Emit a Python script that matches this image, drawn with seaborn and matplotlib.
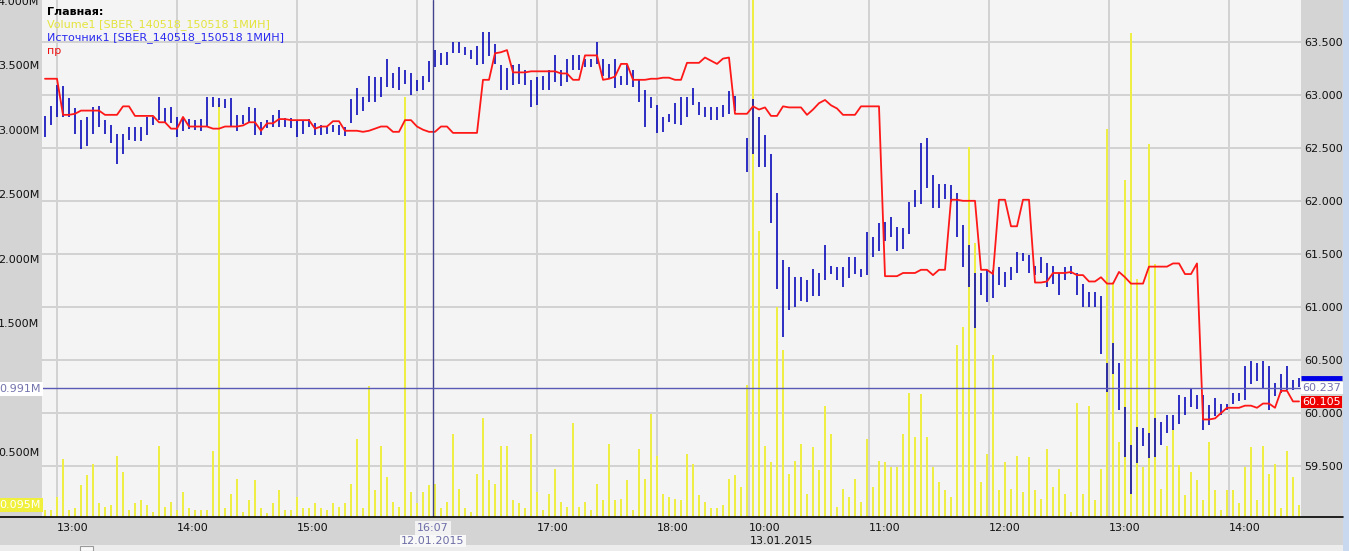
import numpy as np
import matplotlib
matplotlib.use("Agg")
import matplotlib.pyplot as plt
import matplotlib.transforms as mtrans
from matplotlib.patches import Rectangle
from matplotlib.lines import Line2D
import seaborn as sns

# ---------------- data (one bar = 3 one-minute candles) ----------------
BAR_MINUTES = 3
nan = float("nan")

price_high = [
    62.80, 62.89, 63.09, 63.08, 62.97, 62.87, 62.76, 62.79, 62.88, 62.89,
    62.76, 62.71, 62.63, 62.63, 62.70, 62.70, 62.70, 62.79, 62.79, 62.98,
    62.87, 62.88, 62.79, 62.77, 62.77, 62.76, 62.77, 62.98, 62.98, 62.97,
    62.96, 62.97, 62.81, 62.81, 62.88, 62.87, 62.74, 62.76, 62.81, 62.86,
    62.78, 62.78, 62.76, 62.76, 62.77, 62.73, 62.71, 62.70, 62.71, 62.71,
    62.70, 62.96, 63.06, 62.98, 63.18, 63.17, 63.17, 63.34, 63.20, 63.26,
    63.23, 63.20, 63.14, 63.18, 63.32, 63.42, 63.39, 63.40, 63.50, 63.50,
    63.45, 63.42, 63.46, 63.59, 63.59, 63.48, 63.28, 63.25, 63.28, 63.29,
    63.23, 63.14, 63.17, 63.18, 63.23, 63.37, 63.23, 63.34, 63.37, 63.37,
    63.34, 63.34, 63.50, 63.34, 63.29, 63.34, 63.18, 63.28, 63.23, 63.14,
    63.04, 62.98, 62.90, 62.79, 62.82, 62.92, 62.98, 62.98, 63.06, 62.93,
    62.88, 62.88, 62.88, 62.90, 63.03, 62.99, nan, 62.59, 62.96, 62.79,
    62.62, 62.44, 62.07, 61.44, 61.38, 61.28, 61.28, 61.25, 61.36, 61.32,
    61.58, 61.39, 61.38, 61.38, 61.47, 61.47, 61.36, 61.71, 61.66, 61.79,
    61.80, 61.85, 61.75, 61.74, 61.99, 62.10, 62.54, 62.59, 62.24, 62.16,
    62.16, 62.15, 62.07, 61.77, 61.58, 61.32, 61.32, 61.35, 61.35, 61.38,
    61.33, 61.38, 61.52, 61.51, 61.49, 61.39, 61.47, 61.41, 61.39, 61.32,
    61.38, 61.39, 61.32, 61.22, 61.14, 61.14, 61.10, 60.47, 60.66, 60.47,
    60.06, 59.70, 59.87, 59.86, 59.81, 59.95, 59.92, 59.98, 59.98, 60.17,
    60.15, 60.23, 60.17, 60.17, 60.08, 60.14, 60.09, 60.09, 60.19, 60.19,
    60.44, 60.49, 60.47, 60.49, 60.44, 60.28, 60.37, 60.44, 60.31, 60.33,
]
price_low = [
    62.60, 62.71, 62.79, 62.79, 62.79, 62.63, 62.49, 62.52, 62.63, 62.70,
    62.63, 62.54, 62.35, 62.44, 62.57, 62.56, 62.56, 62.62, 62.71, 62.76,
    62.74, 62.73, 62.60, 62.66, 62.68, 62.67, 62.66, 62.70, 62.88, 62.88,
    62.87, 62.70, 62.66, 62.72, 62.74, 62.62, 62.62, 62.69, 62.70, 62.70,
    62.70, 62.69, 62.60, 62.63, 62.70, 62.62, 62.62, 62.63, 62.65, 62.62,
    62.61, 62.73, 62.81, 62.85, 62.93, 62.93, 62.98, 63.07, 63.06, 63.04,
    63.10, 63.00, 63.03, 63.04, 63.12, 63.26, 63.28, 63.28, 63.39, 63.39,
    63.37, 63.34, 63.28, 63.29, 63.36, 63.29, 63.04, 63.04, 63.09, 63.10,
    63.09, 62.88, 62.90, 63.04, 63.04, 63.12, 63.08, 63.12, 63.23, 63.23,
    63.26, 63.26, 63.29, 63.18, 63.15, 63.06, 63.09, 63.09, 63.07, 62.93,
    62.70, 62.87, 62.64, 62.65, 62.74, 62.72, 62.71, 62.79, 62.90, 62.81,
    62.79, 62.76, 62.76, 62.79, 62.82, 62.85, nan, 62.27, 62.44, 62.32,
    62.32, 61.79, 61.17, 60.72, 60.97, 61.00, 61.06, 61.05, 61.10, 61.10,
    61.25, 61.31, 61.25, 61.19, 61.27, 61.31, 61.28, 61.30, 61.47, 61.53,
    61.62, 61.66, 61.53, 61.55, 61.69, 61.94, 61.97, 62.12, 61.93, 61.93,
    62.02, 61.99, 61.66, 61.38, 61.19, 60.80, 61.11, 61.05, 61.08, 61.21,
    61.19, 61.25, 61.32, 61.43, 61.32, 61.30, 61.32, 61.19, 61.22, 61.11,
    61.25, 61.31, 61.11, 61.00, 61.00, 61.00, 60.56, 60.20, 60.37, 60.03,
    59.59, 59.24, 59.53, 59.69, 59.58, 59.59, 59.70, 59.81, 59.84, 59.90,
    59.98, 60.06, 60.04, 59.84, 59.89, 59.97, 59.98, 60.03, 60.09, 60.11,
    60.12, 60.27, 60.30, 60.23, 60.03, 60.16, 60.19, 60.22, 60.22, 60.25,
]
pr_line = [
    63.15, 63.15, 63.15, 62.81, 62.81, 62.82, 62.85, 62.85, 62.85, 62.85,
    62.81, 62.81, 62.81, 62.89, 62.89, 62.80, 62.80, 62.80, 62.80, 62.74,
    62.74, 62.68, 62.68, 62.79, 62.70, 62.70, 62.70, 62.70, 62.68, 62.68,
    62.70, 62.70, 62.70, 62.71, 62.74, 62.74, 62.66, 62.73, 62.73, 62.77,
    62.77, 62.76, 62.76, 62.76, 62.76, 62.68, 62.70, 62.70, 62.75, 62.75,
    62.66, 62.66, 62.66, 62.65, 62.66, 62.68, 62.70, 62.70, 62.65, 62.65,
    62.76, 62.76, 62.70, 62.67, 62.65, 62.65, 62.70, 62.70, 62.64, 62.64,
    62.64, 62.64, 62.64, 63.14, 63.14, 63.39, 63.40, 63.42, 63.21, 63.21,
    63.21, 63.22, 63.22, 63.22, 63.22, 63.22, 63.20, 63.20, 63.14, 63.14,
    63.37, 63.37, 63.37, 63.14, 63.15, 63.17, 63.29, 63.29, 63.14, 63.14,
    63.14, 63.15, 63.15, 63.16, 63.16, 63.14, 63.14, 63.30, 63.30, 63.30,
    63.35, 63.32, 63.29, 63.34, 63.35, 62.82, 62.82, 62.82, 62.89, 62.86,
    62.88, 62.80, 62.80, 62.89, 62.88, 62.88, 62.88, 62.81, 62.86, 62.92,
    62.95, 62.90, 62.87, 62.81, 62.81, 62.81, 62.89, 62.89, 62.89, 62.89,
    61.29, 61.29, 61.29, 61.32, 61.32, 61.32, 61.35, 61.35, 61.30, 61.35,
    61.35, 62.01, 62.01, 62.00, 62.00, 62.00, 61.35, 61.35, 61.31, 62.01,
    62.01, 61.76, 61.76, 62.01, 62.01, 61.23, 61.23, 61.24, 61.32, 61.32,
    61.32, 61.33, 61.30, 61.30, 61.24, 61.24, 61.28, 61.22, 61.22, 61.33,
    61.28, 61.22, 61.22, 61.22, 61.38, 61.38, 61.38, 61.38, 61.41, 61.41,
    61.31, 61.31, 61.41, 59.94, 59.94, 59.95, 60.00, 60.05, 60.05, 60.05,
    60.07, 60.07, 60.05, 60.09, 60.09, 60.05, 60.21, 60.21, 60.11, 60.11,
]
volume_m = [
    0.054, 0.054, 0.156, 0.450, 0.054, 0.066, 0.246, 0.322, 0.412, 0.105,
    0.079, 0.092, 0.476, 0.348, 0.054, 0.105, 0.130, 0.092, 0.041, 0.552,
    0.079, 0.118, 0.054, 0.194, 0.066, 0.054, 0.054, 0.054, 0.514, 3.199,
    0.066, 0.182, 0.297, 0.041, 0.130, 0.284, 0.066, 0.028, 0.105, 0.207,
    0.054, 0.054, 0.156, 0.066, 0.066, 0.105, 0.066, 0.054, 0.105, 0.079,
    0.105, 0.258, 0.604, 0.066, 1.013, 0.207, 0.552, 0.309, 0.118, 0.079,
    3.251, 0.194, 0.105, 0.194, 0.246, 0.258, 0.066, 0.118, 0.642, 0.220,
    0.066, 0.041, 0.335, 0.770, 0.284, 0.258, 0.552, 0.552, 0.130, 0.105,
    0.066, 0.642, 0.194, 0.054, 0.182, 0.373, 0.118, 0.079, 0.731, 0.079,
    0.118, 0.054, 0.258, 0.130, 0.565, 0.130, 0.143, 0.284, 0.054, 0.527,
    0.297, 0.795, 0.476, 0.182, 0.156, 0.143, 0.130, 0.488, 0.412, 0.169,
    0.118, 0.066, 0.066, 0.092, 0.297, 0.322, 0.233, 1.026, 4.200, 2.215,
    0.552, 0.425, 1.627, 1.294, 0.335, 0.437, 0.565, 0.182, 0.540, 0.361,
    0.859, 0.642, 0.079, 0.220, 0.156, 0.297, 0.118, 0.604, 0.233, 0.437,
    0.425, 0.386, 0.386, 0.642, 0.962, 0.616, 0.949, 0.616, 0.386, 0.271,
    0.207, 0.156, 1.332, 1.473, 2.867, 2.125, 0.271, 0.488, 1.256, 0.207,
    0.425, 0.220, 0.476, 0.194, 0.463, 0.207, 0.143, 0.527, 0.233, 0.373,
    0.182, 0.041, 0.885, 0.182, 0.859, 0.130, 0.373, 3.008, 1.818, 0.578,
    2.611, 3.749, 1.844, 0.386, 2.893, 1.959, 0.220, 0.552, 0.680, 0.399,
    0.169, 0.348, 0.284, 0.130, 0.578, 0.207, 0.054, 0.207, 0.207, 0.105,
    0.386, 0.540, 0.130, 0.552, 0.335, 0.412, 0.066, 0.514, 0.309, 0.092,
]

time_ticks = [7, 67, 127, 187, 247, 307, 353, 413, 473, 533, 593]
time_labels = ["13:00", "14:00", "15:00", "", "17:00", "18:00",
               "10:00", "11:00", "12:00", "13:00", "14:00"]
price_ticks = [59.5, 60.0, 60.5, 61.0, 61.5, 62.0, 62.5, 63.0, 63.5]
volume_ticks = [0.5, 1.5, 2.0, 2.5, 3.0, 3.5, 4.0]
day2_start = 353
day2_date = "13.01.2015"
cursor_minute = 195
cursor_time = "16:07"
cursor_date = "12.01.2015"
cursor_volume = 0.991
cursor_price = 60.237
last_pr = 60.105
last_close = 60.33
min_volume = 0.095
legend_items = [
    ("Главная:", "#000000", "bold"),
    ("Volume1 [SBER_140518_150518 1МИН]", "#e4e43c", "normal"),
    ("Источник1 [SBER_140518_150518 1МИН]", "#2a2af0", "normal"),
    ("пр", "#ee1010", "normal"),
]

# ---------------- figure ----------------
W, H = 1349, 551
sns.set_style("white")
plt.rcParams["font.family"] = ["DejaVu Sans"]

fig = plt.figure(figsize=(W / 100, H / 100), dpi=100)
fig.patch.set_facecolor("#d4d4d4")

L, R, T, B = 42, 1301, 0, 517
ax_bg = fig.add_axes([L / W, 1 - B / H, (R - L) / W, (B - T) / H])
ax_bg.set_facecolor("#f4f4f4")
ax_vol = ax_bg.twinx()
ax_px = ax_bg.twinx()

n = len(price_high)
xs = np.arange(n) * BAR_MINUTES + 1
hi = np.array(price_high)
lo = np.array(price_low)
ok = ~np.isnan(hi)

# volume bars (thin yellow sticks)
sns.barplot(x=xs, y=volume_m, native_scale=True, ax=ax_vol, color="#eeee44",
            saturation=1, width=0.32, errorbar=None, edgecolor="none", linewidth=0)

# price bars + red line
ax_px.vlines(xs[ok], lo[ok], hi[ok], colors="#0000b8", linewidth=1.15, zorder=3)
sns.lineplot(x=xs, y=pr_line, ax=ax_px, color="#ff1818", linewidth=1.3,
             estimator=None, sort=False, legend=False, zorder=4)

# cursors
ax_px.axvline(cursor_minute, color="#44448e", linewidth=1.0, zorder=5)
ax_px.axhline(cursor_price, color="#5a5ab6", linewidth=1.0, zorder=5)

# limits
price_lim = (59.021, 63.892)
for a in (ax_bg, ax_px):
    a.set_ylim(*price_lim)
ax_vol.set_ylim(0, 4.005)
ax_bg.set_xlim(-0.5, 629)

# ticks / grid
ax_bg.set_xticks(time_ticks, time_labels)
for t in ax_bg.get_xticklabels():
    t.set_ha("left")
ax_bg.tick_params(axis="x", length=0, pad=4.5, labelsize=8, labelcolor="#111111")
ax_bg.set_yticks(price_ticks, [f"{p:.3f}" for p in price_ticks])
ax_bg.yaxis.tick_right()
ax_bg.tick_params(axis="y", length=0, pad=2, labelsize=8, labelcolor="#111111")
ax_bg.grid(True, color="#d2d2d2", linewidth=1.4)
ax_bg.set_axisbelow(True)

ax_vol.yaxis.tick_left()
ax_vol.set_yticks(volume_ticks, [f"{v:.3f}M" for v in volume_ticks])
ax_vol.tick_params(axis="y", length=0, pad=2, labelsize=8, labelcolor="#111111")
ax_vol.grid(False)
ax_px.set_yticks([])
ax_px.grid(False)
for a in (ax_vol, ax_px):
    a.tick_params(axis="x", bottom=False, labelbottom=False, top=False, labeltop=False)
    a.set_xlabel("")
    a.set_ylabel("")
ax_bg.set_xlabel("")
for a in (ax_bg, ax_vol, ax_px):
    for s in a.spines.values():
        s.set_visible(False)

# ---------------- decorations ----------------
def fy(y):
    return 1 - y / H

# x-axis base line and bottom scroll strip
fig.add_artist(Rectangle((0, 0), 1343 / W, (H - 545) / H, transform=fig.transFigure,
                         facecolor="#ececec", edgecolor="none"))
fig.add_artist(Rectangle((80 / W, 0), 13 / W, 5 / H, transform=fig.transFigure,
                         facecolor="#fafafa", edgecolor="#9a9a9a", linewidth=0.8))
fig.add_artist(Line2D([0, 1343 / W], [fy(517), fy(517)], transform=fig.transFigure,
                      color="black", linewidth=1.2))
fig.add_artist(Rectangle((1343 / W, 0), 6 / W, 1, transform=fig.transFigure,
                         facecolor="#c8d8ee", edgecolor="none"))

# legend
for i, (txt, col, wt) in enumerate(legend_items):
    fig.text(47 / W, fy(12 + 13 * i), txt, color=col, fontsize=8, fontweight=wt,
             va="center", ha="left")

# left special labels
tl = mtrans.blended_transform_factory(fig.transFigure, ax_vol.transData)
fig.text(40.5 / W, cursor_volume, f"{cursor_volume:.3f}M", transform=tl, ha="right",
         va="center", fontsize=8, color="#7474ae",
         bbox=dict(boxstyle="square,pad=0.18", fc="white", ec="none"))
fig.text(40.5 / W, min_volume, f"{min_volume:.3f}M", transform=tl, ha="right",
         va="center", fontsize=8, color="white",
         bbox=dict(boxstyle="square,pad=0.18", fc="#f0f03c", ec="none"))

# right special labels
tr = mtrans.blended_transform_factory(fig.transFigure, ax_px.transData)
fig.add_artist(Line2D([1301 / W, 1342 / W], [last_close, last_close], transform=tr,
                      color="#0000e6", linewidth=3.5, solid_capstyle="butt"))
fig.text(1302.5 / W, cursor_price, f"{cursor_price:.3f}", transform=tr, ha="left",
         va="center", fontsize=8, color="#7474ae",
         bbox=dict(boxstyle="square,pad=0.12", fc="white", ec="none"))
fig.text(1302.5 / W, last_pr, f"{last_pr:.3f}", transform=tr, ha="left",
         va="center", fontsize=8, color="white",
         bbox=dict(boxstyle="square,pad=0.12", fc="#ee0000", ec="none"))

# bottom cursor / date labels
tb = mtrans.blended_transform_factory(ax_bg.transData, fig.transFigure)
fig.text(cursor_minute, fy(528), cursor_time, transform=tb, ha="center", va="center",
         fontsize=8, color="#6e6ea8",
         bbox=dict(boxstyle="square,pad=0.2", fc="#f2f2f2", ec="none"))
fig.text(cursor_minute, fy(541), cursor_date, transform=tb, ha="center", va="center",
         fontsize=8, color="#6e6ea8",
         bbox=dict(boxstyle="square,pad=0.12", fc="#f8f8f8", ec="none"))
fig.text(day2_start + 0.5, fy(541), day2_date, transform=tb, ha="left", va="center",
         fontsize=8, color="#111111")

fig.savefig("out.png", dpi=100, facecolor=fig.get_facecolor())
